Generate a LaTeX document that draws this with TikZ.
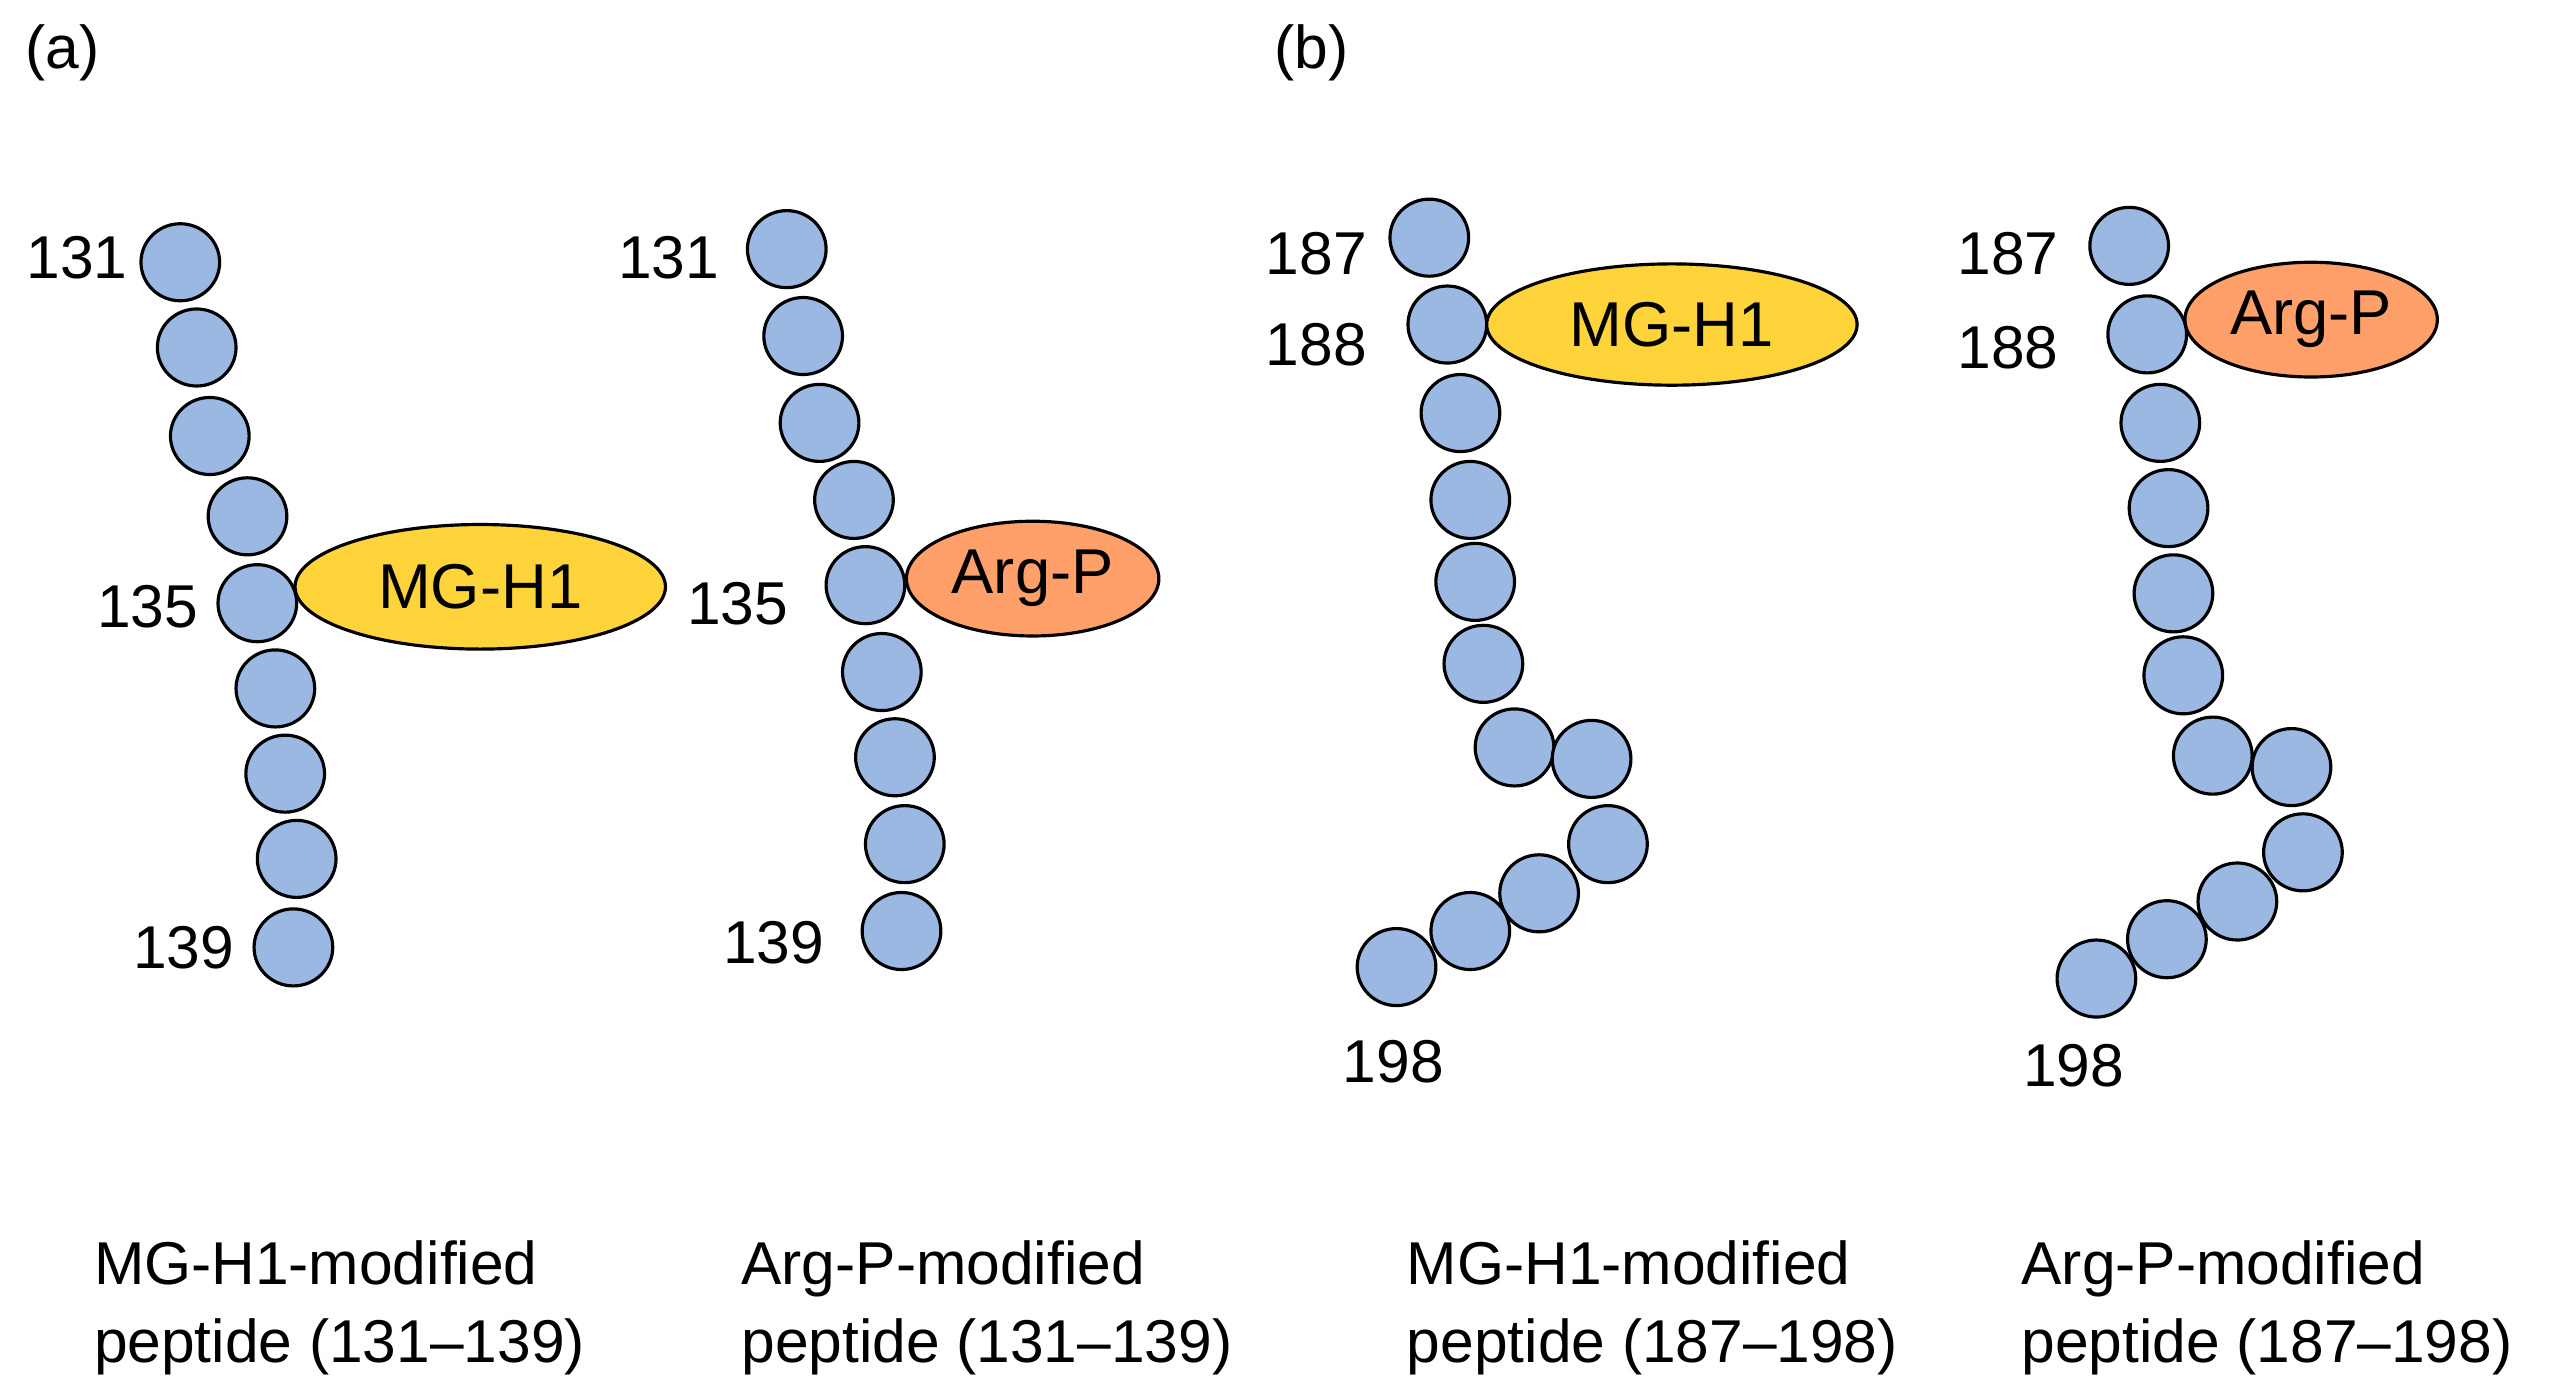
\documentclass[tikz,border=0pt]{standalone}
\usepackage{fontspec}
\setmainfont{Liberation Sans}
\usetikzlibrary{shapes.geometric}
\definecolor{res}{HTML}{9BB8E3}
\definecolor{mg}{HTML}{FFD43B}
\definecolor{ap}{HTML}{FFA06A}
\tikzset{
 bead/.style={ellipse,draw=black,line width=1.1pt,fill=res,minimum width=48*0.02cm,minimum height=47*0.02cm,inner sep=0pt},
 mod/.style={ellipse,draw=black,line width=1.1pt,inner sep=0pt,font=\fontsize{22}{26}\selectfont},
 lab/.style={font=\fontsize{21}{25}\selectfont,inner sep=0pt},
 captxt/.style={font=\fontsize{21}{27}\selectfont,align=left,anchor=west,inner sep=0pt}
}
\begin{document}
\begin{tikzpicture}[x=0.02cm,y=-0.02cm]
\useasboundingbox (0,0) rectangle (1560,852);
\node[lab] (pa) at (38,32) {(a)};
\node[lab] (pb) at (800,32) {(b)};
% chain 1
\foreach \x/\y [count=\i] in {110/160,120/212,128/266,151/315,157/368,168/420,174/472,181/524,179/578}
  \node[bead] (a\i) at (\x,\y) {};
\node[mod,fill=mg,minimum width=226*0.02cm,minimum height=76*0.02cm] (m1) at (293,358) {MG-H1};
\node[lab] (l1) at (47,157) {131};
\node[lab] (l2) at (90,370) {135};
\node[lab] (l3) at (112,578) {139};
% chain 2
\foreach \x/\y [count=\i] in {480/152,490/205,500/258,521/305,528/357,538/410,546/462,552/515,550/568}
  \node[bead] (b\i) at (\x,\y) {};
\node[mod,fill=ap,minimum width=154*0.02cm,minimum height=70*0.02cm] (m2) at (630,353) {Arg-P};
\node[lab] (l4) at (408,157) {131};
\node[lab] (l5) at (450,368) {135};
\node[lab] (l6) at (472,575) {139};
% chain 3
\foreach \x/\y [count=\i] in {872/145,883/198,891/252,897/305,900/355,905/405,924/456,971/463,981/515,939/545,897/568,852/590}
  \node[bead] (c\i) at (\x,\y) {};
\node[mod,fill=mg,minimum width=226*0.02cm,minimum height=74*0.02cm] (m3) at (1020,198) {MG-H1};
\node[lab] (l7) at (803,155) {187};
\node[lab] (l8) at (803,210) {188};
\node[lab] (l9) at (850,648) {198};
% chain 4
\foreach \x/\y [count=\i] in {1299/150,1310/204,1318/258,1323/310,1326/362,1332/412,1350/461,1398/468,1405/520,1365/550,1322/573,1279/597}
  \node[bead] (d\i) at (\x,\y) {};
\node[mod,fill=ap,minimum width=154*0.02cm,minimum height=70*0.02cm] (m4) at (1410,195) {Arg-P};
\node[lab] (l10) at (1225,155) {187};
\node[lab] (l11) at (1225,212) {188};
\node[lab] (l12) at (1265,650) {198};
% captions
\node[captxt] (t1) at (57,798) {MG-H1-modified\\peptide (131–139)};
\node[captxt] (t2) at (452,798) {Arg-P-modified\\peptide (131–139)};
\node[captxt] (t3) at (858,798) {MG-H1-modified\\peptide (187–198)};
\node[captxt] (t4) at (1233,798) {Arg-P-modified\\peptide (187–198)};
\end{tikzpicture}
\end{document}
